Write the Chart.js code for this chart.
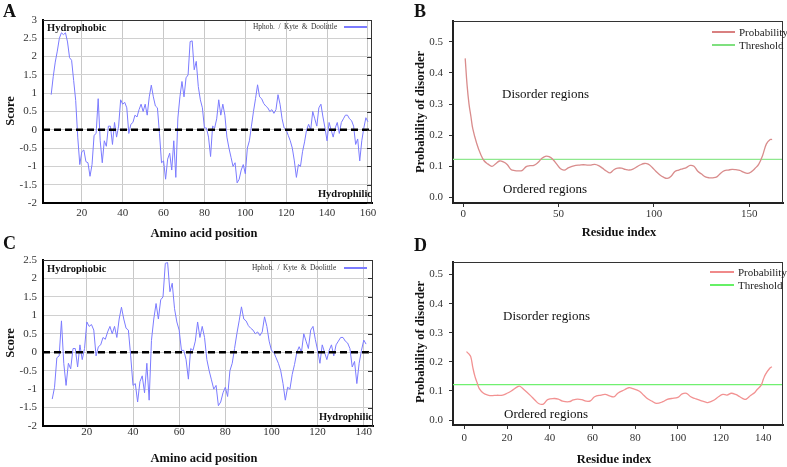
<!DOCTYPE html>
<html>
<head>
<meta charset="utf-8">
<script src="https://cdn.jsdelivr.net/npm/chart.js@4.4.1/dist/chart.umd.min.js"></script>
<style>
  body { margin: 0; background: #fff; }
  #fig { position: relative; width: 787px; height: 467px; font-family: "Liberation Serif", serif; color: #111; overflow: hidden; }
  canvas { position: absolute; }
  .t { position: absolute; white-space: nowrap; line-height: 1; }
  .c { transform: translate(-50%, -50%); }
  .l { transform: translateY(-50%); }
  .r { transform: translate(-100%, -50%); }
  .rot { transform: translate(-50%, -50%) rotate(-90deg); }
  .letter { font-weight: bold; font-size: 18px; }
  .title { font-weight: bold; font-size: 12.5px; }
  .tag { font-weight: bold; font-size: 10.5px; }
  .region { font-size: 13px; }
  .leg { font-size: 11px; color: #222; }
  .legA { font-size: 7.4px; color: #333; word-spacing: 1.6px; }
  .swatch { position: absolute; height: 2px; }
</style>
</head>
<body>
<div id="fig">
  <canvas id="chartA" width="380" height="240" style="left:0;top:0"></canvas>
  <canvas id="chartB" width="387" height="240" style="left:400px;top:0"></canvas>
  <canvas id="chartC" width="380" height="237" style="left:0;top:230px"></canvas>
  <canvas id="chartD" width="387" height="237" style="left:400px;top:230px"></canvas>

  <div class="t l letter" style="left:3px;top:11px">A</div>
  <div class="t l letter" style="left:414px;top:11px">B</div>
  <div class="t l letter" style="left:3px;top:243px">C</div>
  <div class="t l letter" style="left:414px;top:245px">D</div>

  <div class="t rot title" style="left:10px;top:111px">Score</div>
  <div class="t rot title" style="left:10px;top:343px">Score</div>
  <div class="t c title" style="left:204px;top:233px">Amino acid position</div>
  <div class="t c title" style="left:204px;top:458px">Amino acid position</div>
  <div class="t l tag" style="left:47px;top:28px">Hydrophobic</div>
  <div class="t l tag" style="left:47px;top:269px">Hydrophobic</div>
  <div class="t r tag" style="left:372px;top:194px">Hydrophilic</div>
  <div class="t r tag" style="left:373px;top:417px">Hydrophilic</div>
  <div class="t l legA" style="left:253px;top:27px">Hphob. / Kyte &amp; Doolittle</div>
  <div class="swatch" style="left:344px;top:26px;width:23px;background:#7b7bff"></div>
  <div class="t l legA" style="left:252px;top:268px">Hphob. / Kyte &amp; Doolittle</div>
  <div class="swatch" style="left:344px;top:267px;width:23px;background:#7b7bff"></div>

  <div class="t rot title" style="left:420px;top:112px">Probability of disorder</div>
  <div class="t rot title" style="left:420px;top:342px">Probability of disorder</div>
  <div class="t c title" style="left:619px;top:232px">Residue index</div>
  <div class="t c title" style="left:614px;top:459px">Residue index</div>
  <div class="t l region" style="left:502px;top:93px">Disorder regions</div>
  <div class="t l region" style="left:503px;top:188px">Ordered regions</div>
  <div class="t l region" style="left:503px;top:315px">Disorder regions</div>
  <div class="t l region" style="left:504px;top:413px">Ordered regions</div>

  <div class="swatch" style="left:712px;top:31px;width:23px;height:1.5px;background:#d98080"></div>
  <div class="t l leg" style="left:739px;top:32px">Probability</div>
  <div class="swatch" style="left:712px;top:44px;width:23px;height:1.5px;background:#7fe07f"></div>
  <div class="t l leg" style="left:739px;top:45px">Threshold</div>
  <div class="swatch" style="left:710px;top:271px;width:24px;height:1.5px;background:#f08a8a"></div>
  <div class="t l leg" style="left:738px;top:272px">Probability</div>
  <div class="swatch" style="left:710px;top:284px;width:24px;height:1.5px;background:#66f066"></div>
  <div class="t l leg" style="left:738px;top:285px">Threshold</div>
</div>

<script>
// Kyte & Doolittle hydropathy, panel A (positions 5..160)
const hydroStartA = 5;
const hydroA = [
  0.96, 1.45, 1.85, 2.15, 2.5, 2.65, 2.6, 2.65, 2.4, 1.97,
  1.9, 1.35, 0.8, -0.2, -0.95, -0.6, -0.55, -0.87, -0.9, -1.27,
  -0.95, -0.15, -0.1, 0.85, -0.3, -0.9, -0.3, -0.45, 0.1, 0.1,
  -0.4, 0.2, -0.2, 0.1, 0.82, 0.7, 0.75, 0.6, -0.1, 0.15,
  0.2, 0.4, 0.35, 0.55, 0.7, 0.5, 0.7, 0.4, 0.9, 1.22,
  0.9, 0.65, 0.6, -0.1, -0.9, -0.85, -1.35, -0.8, -0.64, -1.1,
  -0.3, -1.3, 0.32, 0.9, 1.32, 0.9, 1.42, 1.5, 2.41, 2.43,
  1.64, 1.87, 1.18, 0.82, 0.6, 0.05, 0.05, -0.2, -0.73, 0.1,
  0.05, 0.3, 0.82, 0.4, 0.7, 0.4, -0.2, -0.5, -0.75, -1.0,
  -0.9, -1.45, -1.35, -1.1, -0.95, -1.2, -0.5, -0.3, 0.1, 0.5,
  0.85, 1.23, 0.9, 0.85, 0.72, 0.65, 0.6, 0.5, 0.55, 0.45,
  0.55, 0.96, 0.7, 0.3, 0.05, 0.0, -0.15, -0.3, -0.5, -0.85,
  -1.3, -0.95, -1.0, -0.6, -0.33, 0.0, 0.15, 0.0, 0.5, 0.3,
  0.1, 0.6, 0.7, 0.35, 0.05, -0.3, 0.2, 0.0, -0.2, 0.05,
  0.2, -0.1, 0.2, 0.3, 0.4, 0.4, 0.3, 0.25, 0.1, -0.4,
  -0.25, -0.85, -0.3, 0.05, 0.33, 0.22
];

// panel C (positions 5..141)
const hydroStartC = 5;
const hydroC = [
  -1.27, -0.95, -0.15, -0.1, 0.85, -0.3, -0.9, -0.3, -0.45, 0.1,
  0.1, -0.4, 0.2, -0.2, 0.1, 0.82, 0.7, 0.75, 0.6, -0.1,
  0.15, 0.2, 0.4, 0.35, 0.55, 0.7, 0.5, 0.7, 0.4, 0.9,
  1.22, 0.9, 0.65, 0.6, -0.1, -0.9, -0.85, -1.35, -0.8, -0.64,
  -1.1, -0.3, -1.3, 0.32, 0.9, 1.32, 0.9, 1.42, 1.5, 2.41,
  2.43, 1.64, 1.87, 1.18, 0.82, 0.6, 0.05, 0.05, -0.2, -0.73,
  0.1, 0.05, 0.3, 0.82, 0.4, 0.7, 0.4, -0.2, -0.5, -0.75,
  -1.0, -0.9, -1.45, -1.35, -1.1, -0.95, -1.2, -0.5, -0.3, 0.1,
  0.5, 0.85, 1.23, 0.9, 0.85, 0.72, 0.65, 0.6, 0.5, 0.55,
  0.45, 0.55, 0.96, 0.7, 0.3, 0.05, 0.0, -0.15, -0.3, -0.5,
  -0.85, -1.3, -0.95, -1.0, -0.6, -0.33, 0.0, 0.15, 0.0, 0.5,
  0.3, 0.1, 0.6, 0.7, 0.35, 0.05, -0.3, 0.2, 0.0, -0.2,
  0.05, 0.2, -0.1, 0.2, 0.3, 0.4, 0.4, 0.3, 0.25, 0.1,
  -0.4, -0.25, -0.85, -0.3, 0.05, 0.33, 0.22
];
const scoreBaseline = 0;

// disorder probability, panel B
const residueB = [
  1, 2, 3, 4, 5, 7, 9, 11, 13, 15, 17, 19, 21, 23, 25, 27, 29, 31, 33, 35,
  37, 39, 41, 43, 45, 47, 49, 51, 53, 55, 57, 59, 61, 63, 65, 67, 69, 71, 73, 75,
  77, 79, 81, 83, 85, 87, 89, 91, 93, 95, 97, 99, 101, 103, 105, 107, 109, 111, 113, 115,
  117, 119, 121, 123, 125, 127, 129, 131, 133, 135, 137, 139, 141, 143, 145, 147, 149, 151, 153, 155,
  157, 159, 161, 162
];
const probB = [
  0.447, 0.36, 0.30, 0.26, 0.22, 0.174, 0.14, 0.117, 0.107, 0.10, 0.108, 0.117, 0.114, 0.106, 0.09, 0.086, 0.085, 0.087, 0.099, 0.102,
  0.103, 0.111, 0.124, 0.132, 0.131, 0.122, 0.107, 0.092, 0.088, 0.095, 0.1, 0.103, 0.104, 0.105, 0.104, 0.104, 0.106, 0.102, 0.094, 0.085,
  0.079, 0.089, 0.094, 0.094, 0.09, 0.088, 0.091, 0.098, 0.105, 0.109, 0.107, 0.097, 0.084, 0.073, 0.065, 0.061, 0.068, 0.083, 0.088, 0.092,
  0.096, 0.103, 0.1, 0.084, 0.075, 0.066, 0.063, 0.063, 0.066, 0.078, 0.086, 0.088, 0.09, 0.089, 0.087, 0.081, 0.077, 0.082, 0.093, 0.107,
  0.135, 0.172, 0.186, 0.186
];
const thresholdB = 0.122;

// disorder probability, panel D
const residueD = [
  1, 2, 3, 4, 5, 6, 7, 9, 11, 13, 15, 18, 20, 22, 25, 26, 28, 31, 33, 35,
  37, 39, 42, 44, 46, 49, 51, 53, 55, 57, 59, 61, 64, 66, 68, 70, 72, 75, 77, 79,
  82, 84, 86, 88, 90, 93, 95, 97, 100, 102, 104, 106, 108, 111, 113, 114, 117, 119, 121, 123,
  125, 127, 129, 131, 132, 134, 136, 137, 139, 140, 141, 143, 144
];
const probD = [
  0.235, 0.228, 0.218, 0.18, 0.149, 0.128, 0.108, 0.092, 0.086, 0.084, 0.085, 0.086, 0.092, 0.1, 0.115, 0.116, 0.104, 0.084, 0.069, 0.056,
  0.055, 0.07, 0.074, 0.072, 0.065, 0.063, 0.069, 0.072, 0.07, 0.065, 0.066, 0.08, 0.086, 0.088, 0.083, 0.08, 0.093, 0.104, 0.111, 0.108,
  0.099, 0.085, 0.072, 0.064, 0.057, 0.063, 0.071, 0.074, 0.078, 0.09, 0.092, 0.08, 0.074, 0.066, 0.062, 0.06, 0.069, 0.08, 0.088, 0.086,
  0.092, 0.088, 0.08, 0.072, 0.072, 0.084, 0.095, 0.104, 0.12, 0.14, 0.157, 0.178, 0.183
];
const thresholdD = 0.122;

const serif = "'Liberation Serif', 'Times New Roman', serif";

/* fixed axis boxes so the plot areas land where the figure has them */
function fixBox(prop, size) {
  return function (scale) {
    scale[prop] = size;
    scale.paddingLeft = scale.paddingRight = scale.paddingTop = scale.paddingBottom = 0;
  };
}

/* top + right border of the plot box, optional inward ticks on the right */
const framePlugin = {
  id: "frame",
  afterDatasetsDraw(chart, args, opts) {
    const { ctx, chartArea: a } = chart;
    ctx.save();
    ctx.strokeStyle = opts.color || "#333";
    ctx.lineWidth = 1;
    ctx.beginPath();
    ctx.moveTo(a.left, a.top + 0.5);
    ctx.lineTo(a.right, a.top + 0.5);
    ctx.moveTo(a.right - 0.5, a.top);
    ctx.lineTo(a.right - 0.5, a.bottom);
    if (opts.innerTicks) {
      chart.scales.y.ticks.forEach(t => {
        const py = Math.round(chart.scales.y.getPixelForValue(t.value)) + 0.5;
        ctx.moveTo(a.right - 5, py);
        ctx.lineTo(a.right, py);
      });
    }
    ctx.stroke();
    ctx.restore();
  }
};

function hydroChart(id, start, values, xMax, yMax, layoutTop, layoutRight, xBox, xPad) {
  const pts = values.map((v, i) => ({ x: start + i, y: v }));
  return new Chart(document.getElementById(id), {
    type: "line",
    data: {
      datasets: [
        {
          data: [{ x: 1, y: scoreBaseline }, { x: xMax, y: scoreBaseline }],
          borderColor: "#000",
          borderWidth: 2.5,
          borderDash: [7, 4],
          pointRadius: 0
        },
        {
          data: pts,
          borderColor: "#7b7bff",
          borderWidth: 1,
          pointRadius: 0,
          tension: 0
        }
      ]
    },
    options: {
      responsive: false,
      animation: false,
      layout: { padding: { top: layoutTop, right: layoutRight, left: 0, bottom: 0 } },
      plugins: { legend: { display: false }, tooltip: { enabled: false }, frame: { innerTicks: true, color: "#333" } },
      scales: {
        x: {
          type: "linear",
          min: 1,
          max: xMax,
          ticks: { stepSize: 20, includeBounds: false, padding: xPad, color: "#333", font: { family: serif, size: 11 }, maxRotation: 0 },
          grid: { color: "#c8c8c8", drawTicks: false },
          border: { color: "#000", width: 2 },
          afterFit: fixBox("height", xBox)
        },
        y: {
          min: -2,
          max: yMax,
          ticks: {
            stepSize: 0.5,
            padding: 6,
            color: "#333",
            font: { family: serif, size: 11 },
            callback: v => String(Math.round(v * 10) / 10)
          },
          grid: { color: "#d0d0d0", drawTicks: false },
          border: { color: "#000", width: 2 },
          afterFit: fixBox("width", 43)
        }
      }
    },
    plugins: [framePlugin]
  });
}

function disorderChart(id, xs, ys, threshold, xMin, xMax, xStep, yMin, yMax, layoutTop, xBox, xPad, lineColor, threshColor) {
  return new Chart(document.getElementById(id), {
    type: "line",
    data: {
      datasets: [
        {
          data: xs.map((x, i) => ({ x: x, y: ys[i] })),
          borderColor: lineColor,
          borderWidth: 1.3,
          pointRadius: 0,
          tension: 0.4
        },
        {
          data: [{ x: xMin, y: threshold }, { x: xMax, y: threshold }],
          borderColor: threshColor,
          borderWidth: 1.2,
          pointRadius: 0
        }
      ]
    },
    options: {
      responsive: false,
      animation: false,
      layout: { padding: { top: layoutTop, right: 4, left: 0, bottom: 0 } },
      plugins: { legend: { display: false }, tooltip: { enabled: false }, frame: { color: "#333" } },
      scales: {
        x: {
          type: "linear",
          min: xMin,
          max: xMax,
          ticks: { stepSize: xStep, includeBounds: false, padding: xPad, color: "#333", font: { family: serif, size: 11 }, maxRotation: 0 },
          grid: { drawOnChartArea: false, drawTicks: true, tickLength: 4, color: "#333" },
          border: { color: "#222", width: 2 },
          afterFit: fixBox("height", xBox)
        },
        y: {
          min: yMin,
          max: yMax,
          ticks: {
            stepSize: 0.1,
            includeBounds: false,
            padding: 6,
            color: "#333",
            font: { family: serif, size: 11 },
            callback: v => v.toFixed(1)
          },
          grid: { drawOnChartArea: false, drawTicks: true, tickLength: 4, color: "#333" },
          border: { color: "#222", width: 2 },
          afterFit: fixBox("width", 53)
        }
      }
    },
    plugins: [framePlugin]
  });
}

hydroChart("chartA", hydroStartA, hydroA, 162, 3, 20, 8, 37, 4);
hydroChart("chartC", hydroStartC, hydroC, 144, 2.5, 30, 7, 41, 0);
disorderChart("chartB", residueB, probB, thresholdB, -5.4, 167.7, 50, -0.018, 0.567, 21, 37, 1, "#d98c8c", "#8ee88e");
disorderChart("chartD", residueD, probD, thresholdD, -5.3, 149.2, 20, -0.017, 0.543, 32, 42, 3, "#f29292", "#70f070");
</script>
</body>
</html>
